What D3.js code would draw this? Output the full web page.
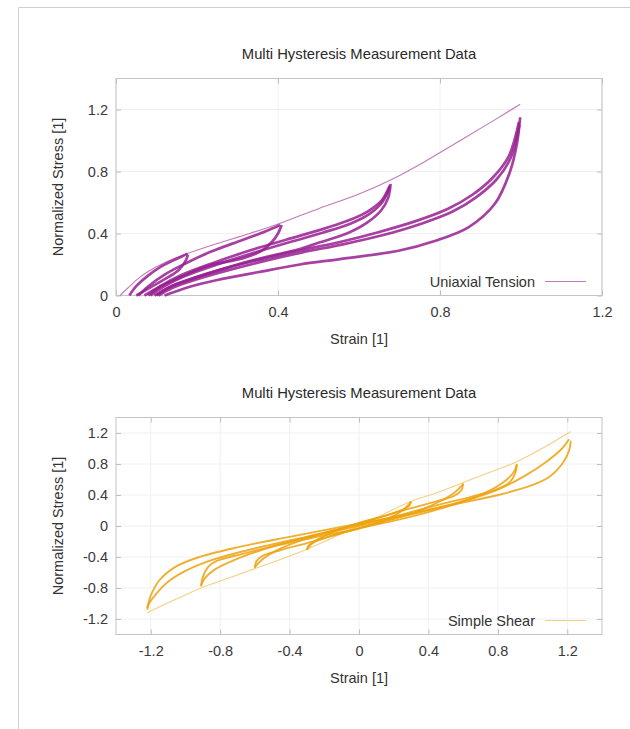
<!DOCTYPE html>
<html>
<head>
<meta charset="utf-8">
<script src="https://cdn.jsdelivr.net/npm/d3@7"></script>
<style>
  body { margin: 0; background: #fff; }
  svg { display: block; font-family: "Liberation Sans", Arial, sans-serif; }
  .tick text { fill: #3a3a3a; font-size: 14.5px; }
</style>
</head>
<body>
<svg id="chart" width="630" height="729"></svg>
<script>
// ---- data: uniaxial tension (strain, normalized stress) ----
const tensionEnvelope = [[0.01,0],[0.03,0.05],[0.06,0.12],[0.10,0.185],[0.14,0.235],[0.178,0.272],[0.25,0.335],[0.33,0.40],[0.409,0.47],[0.50,0.56],[0.60,0.655],[0.678,0.745],[0.76,0.86],[0.85,1.0],[0.93,1.125],[0.998,1.234]];
const tensionLoad1   = [[0.033,0],[0.05,0.06],[0.08,0.13],[0.11,0.185],[0.14,0.225],[0.165,0.255],[0.177,0.27]];
const tensionUnload1 = [[0.178,0.262],[0.17,0.215],[0.155,0.165],[0.13,0.12],[0.11,0.09],[0.08,0.045],[0.05,0]];
const tensionLoad2   = [[0.055,0],[0.08,0.06],[0.12,0.135],[0.17,0.205],[0.232,0.28],[0.314,0.36],[0.37,0.415],[0.405,0.455]];
const tensionUnload2 = [[0.409,0.455],[0.40,0.40],[0.385,0.345],[0.36,0.29],[0.314,0.24],[0.232,0.195],[0.16,0.12],[0.11,0.06],[0.07,0]];
const tensionLoad3   = [[0.08,0],[0.11,0.06],[0.16,0.13],[0.24,0.21],[0.33,0.29],[0.42,0.36],[0.50,0.42],[0.57,0.48],[0.62,0.54],[0.655,0.61],[0.676,0.71]];
const tensionLoad3b  = [[0.085,0],[0.12,0.06],[0.17,0.125],[0.25,0.2],[0.34,0.275],[0.43,0.345],[0.51,0.405],[0.58,0.465],[0.625,0.525],[0.657,0.6],[0.676,0.70]];
const tensionUnload3 = [[0.678,0.72],[0.672,0.63],[0.655,0.55],[0.62,0.47],[0.57,0.40],[0.50,0.34],[0.454,0.30],[0.38,0.255],[0.30,0.20],[0.20,0.12],[0.14,0.065],[0.095,0]];
const tensionLoad4   = [[0.10,0],[0.13,0.05],[0.19,0.11],[0.27,0.175],[0.36,0.235],[0.454,0.29],[0.553,0.345],[0.65,0.41],[0.74,0.48],[0.82,0.56],[0.88,0.65],[0.93,0.76],[0.97,0.90],[0.995,1.12]];
const tensionLoad4b  = [[0.105,0],[0.14,0.05],[0.20,0.105],[0.28,0.165],[0.37,0.225],[0.46,0.278],[0.56,0.33],[0.66,0.39],[0.75,0.46],[0.83,0.54],[0.89,0.635],[0.94,0.75],[0.975,0.89],[0.996,1.10]];
const tensionUnload4 = [[0.998,1.15],[0.99,0.98],[0.973,0.80],[0.935,0.59],[0.87,0.44],[0.785,0.35],[0.70,0.29],[0.553,0.235],[0.454,0.20],[0.35,0.15],[0.25,0.10],[0.18,0.055],[0.12,0]];

// ---- data: simple shear (strain, normalized stress) ----
const shearEnvelope = [[-1.22,-1.12],[-1.05,-0.94],[-0.90,-0.79],[-0.75,-0.67],[-0.60,-0.55],[-0.45,-0.43],[-0.30,-0.30],[-0.15,-0.15],[0,0],[0.15,0.16],[0.30,0.32],[0.45,0.43],[0.60,0.56],[0.75,0.69],[0.91,0.83],[1.07,1.02],[1.22,1.22]];
const shearInc1 = [[-0.30,-0.31],[-0.29,-0.25],[-0.25,-0.20],[-0.15,-0.12],[0,-0.03],[0.15,0.08],[0.25,0.20],[0.30,0.31]];
const shearDec1 = [[0.30,0.32],[0.29,0.26],[0.25,0.21],[0.15,0.13],[0,0.04],[-0.15,-0.08],[-0.25,-0.19],[-0.30,-0.30]];
const shearInc2 = [[-0.60,-0.54],[-0.59,-0.45],[-0.55,-0.38],[-0.45,-0.31],[-0.30,-0.22],[-0.10,-0.09],[0.10,0.03],[0.30,0.16],[0.45,0.30],[0.55,0.43],[0.60,0.54]];
const shearDec2 = [[0.60,0.55],[0.59,0.46],[0.55,0.39],[0.45,0.32],[0.30,0.23],[0.10,0.10],[-0.10,-0.03],[-0.30,-0.16],[-0.45,-0.29],[-0.55,-0.42],[-0.60,-0.53]];
const shearInc3 = [[-0.91,-0.78],[-0.90,-0.66],[-0.87,-0.53],[-0.82,-0.45],[-0.67,-0.36],[-0.47,-0.25],[-0.20,-0.12],[0,-0.03],[0.30,0.12],[0.55,0.28],[0.72,0.42],[0.83,0.56],[0.89,0.69],[0.91,0.80]];
const shearDec3 = [[0.91,0.79],[0.90,0.68],[0.87,0.57],[0.80,0.48],[0.65,0.38],[0.45,0.27],[0.20,0.12],[0,0.02],[-0.30,-0.14],[-0.55,-0.30],[-0.72,-0.44],[-0.83,-0.56],[-0.89,-0.68],[-0.91,-0.77]];
const shearInc4 = [[-1.22,-1.06],[-1.20,-0.90],[-1.15,-0.70],[-1.06,-0.53],[-0.92,-0.40],[-0.69,-0.27],[-0.40,-0.14],[-0.17,-0.04],[0,0.03],[0.30,0.16],[0.60,0.32],[0.80,0.47],[0.95,0.64],[1.08,0.83],[1.17,1.00],[1.21,1.12]];
const shearDec4 = [[1.22,1.10],[1.21,0.97],[1.17,0.80],[1.10,0.64],[1.00,0.53],[0.82,0.41],[0.53,0.27],[0.24,0.12],[0,0.00],[-0.30,-0.14],[-0.60,-0.29],[-0.85,-0.44],[-1.00,-0.58],[-1.10,-0.72],[-1.17,-0.88],[-1.21,-1.00],[-1.22,-1.08]];

const xTicksTension = [0, 0.4, 0.8, 1.2];
const yTicksTension = [0, 0.4, 0.8, 1.2];
const xTicksShear = [-1.2, -0.8, -0.4, 0, 0.4, 0.8, 1.2];
const yTicksShear = [-1.2, -0.8, -0.4, 0, 0.4, 0.8, 1.2];

const svg = d3.select("#chart");
const fmt = d => String(d); // plain hyphen minus like gnuplot

// outer frame of the screenshot
svg.append("path").attr("d", "M18.5,729V7.5H630").attr("fill", "none").attr("stroke", "#cfcfcf");

function drawPanel(opt) {
    const left = 116, right = 602, h = 217;
    const x = d3.scaleLinear().domain(opt.xDomain).range([left, right]);
    const y = d3.scaleLinear().domain(opt.yDomain).range([opt.top + h, opt.top]);
    const g = svg.append("g");

    // grid
    g.selectAll("line.gx").data(opt.xTicks).enter().append("line")
        .attr("x1", d => x(d)).attr("x2", d => x(d))
        .attr("y1", opt.top).attr("y2", opt.top + h)
        .attr("stroke", "#f0f0f0");
    g.selectAll("line.gy").data(opt.yTicks).enter().append("line")
        .attr("x1", left).attr("x2", right)
        .attr("y1", d => y(d)).attr("y2", d => y(d))
        .attr("stroke", "#f0f0f0");

    // axes, ticks pointing inward on all four sides
    const tick = 5;
    g.append("g").attr("transform", `translate(0,${opt.top + h})`)
        .call(d3.axisBottom(x).tickValues(opt.xTicks).tickSize(-tick).tickPadding(11).tickFormat(fmt))
        .call(a => a.select(".domain").remove());
    g.append("g").attr("transform", `translate(0,${opt.top})`)
        .call(d3.axisTop(x).tickValues(opt.xTicks).tickSize(-tick).tickFormat(""))
        .call(a => a.select(".domain").remove());
    g.append("g").attr("transform", `translate(${left},0)`)
        .call(d3.axisLeft(y).tickValues(opt.yTicks).tickSize(-tick).tickPadding(8).tickFormat(fmt))
        .call(a => a.select(".domain").remove());
    g.append("g").attr("transform", `translate(${right},0)`)
        .call(d3.axisRight(y).tickValues(opt.yTicks).tickSize(-tick).tickFormat(""))
        .call(a => a.select(".domain").remove());
    g.selectAll(".tick line").attr("stroke", "#bdbdbd");
    g.selectAll(".tick text").attr("font-family", "Liberation Sans, Arial, sans-serif");

    g.append("rect").attr("x", left).attr("y", opt.top)
        .attr("width", right - left).attr("height", h)
        .attr("fill", "none").attr("stroke", "#c4c4c4");

    // curves
    const line = d3.line().x(d => x(d[0])).y(d => y(d[1])).curve(d3.curveCatmullRom.alpha(0.5));
    g.append("path").datum(opt.envelope).attr("d", line)
        .attr("fill", "none").attr("stroke", opt.light).attr("stroke-width", 1.1);
    opt.loops.forEach(c => {
        g.append("path").datum(c).attr("d", line)
            .attr("fill", "none").attr("stroke", opt.color)
            .attr("stroke-width", opt.width).attr("stroke-opacity", 0.85)
            .attr("stroke-linejoin", "round");
    });

    // titles and labels
    g.append("text").attr("x", (left + right) / 2).attr("y", opt.top - 20)
        .attr("text-anchor", "middle").attr("font-size", 14.8).attr("fill", "#2a2a2a")
        .text("Multi Hysteresis Measurement Data");
    g.append("text").attr("x", (left + right) / 2).attr("y", opt.top + h + 48)
        .attr("text-anchor", "middle").attr("font-size", 14.5).attr("fill", "#333")
        .text("Strain [1]");
    g.append("text").attr("transform", `translate(63,${opt.top + h / 2}) rotate(-90)`)
        .attr("text-anchor", "middle").attr("font-size", 14.5).attr("fill", "#333")
        .text("Normalized Stress [1]");

    // legend
    const ly = opt.top + h - 14;
    g.append("text").attr("x", 535).attr("y", ly + 5)
        .attr("text-anchor", "end").attr("font-size", 14.5).attr("fill", "#333")
        .text(opt.label);
    g.append("line").attr("x1", 545).attr("x2", 586).attr("y1", ly).attr("y2", ly)
        .attr("stroke", opt.light).attr("stroke-width", 1.2);
}

drawPanel({
    top: 78.5,
    xDomain: [0, 1.2], yDomain: [0, 1.4],
    xTicks: xTicksTension, yTicks: yTicksTension,
    envelope: tensionEnvelope,
    loops: [tensionLoad1, tensionUnload1, tensionLoad2, tensionUnload2, tensionLoad3, tensionLoad3b, tensionUnload3, tensionLoad4, tensionLoad4b, tensionUnload4],
    color: "#971f90", light: "#c27ab9", width: 2.7,
    label: "Uniaxial Tension"
});

drawPanel({
    top: 417.5,
    xDomain: [-1.4, 1.4], yDomain: [-1.4, 1.4],
    xTicks: xTicksShear, yTicks: yTicksShear,
    envelope: shearEnvelope,
    loops: [shearInc1, shearDec1, shearInc2, shearDec2, shearInc3, shearDec3, shearInc4, shearDec4],
    color: "#eca20d", light: "#f5cf85", width: 1.9,
    label: "Simple Shear"
});
</script>
</body>
</html>
